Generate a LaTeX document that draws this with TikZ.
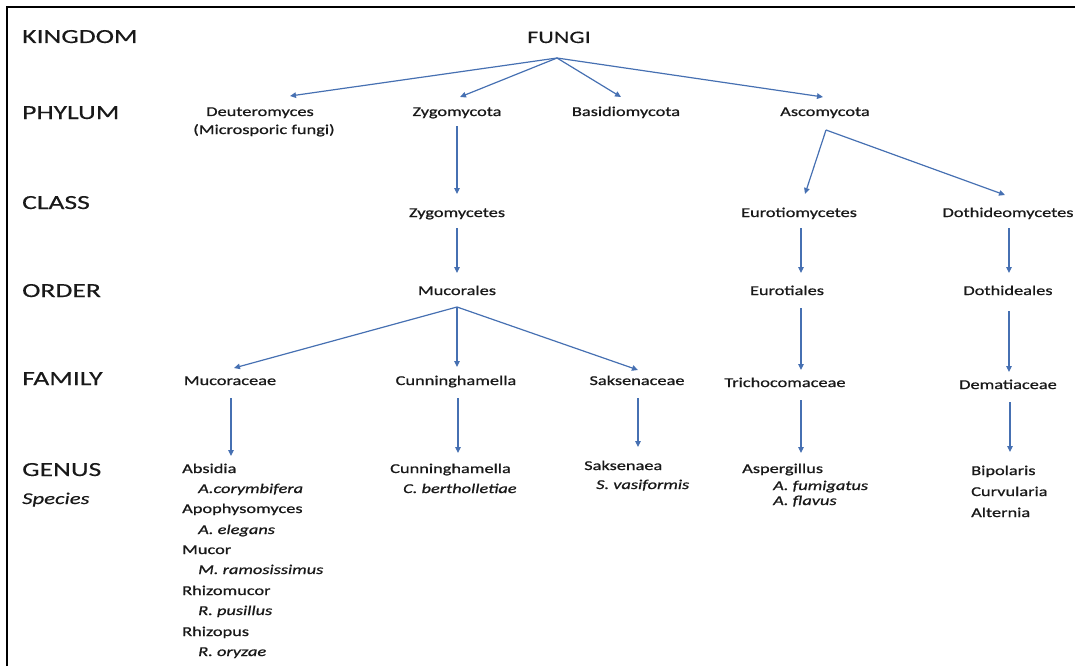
\documentclass[tikz,border=0pt]{standalone}
\usepackage{fontspec}
\setmainfont{Carlito}[FakeStretch=1.38]
\newfontfamily\rankfont{Carlito}[FakeStretch=1.38, FakeBold=0.3]
\newfontfamily\taxfont{Carlito}[FakeStretch=1.36, FakeBold=0.9]
\usetikzlibrary{arrows.meta}
\definecolor{arrowblue}{RGB}{70,112,178}
\definecolor{ink}{RGB}{25,25,25}
\begin{document}
\begin{tikzpicture}[x=1pt,y=-1pt,
  rank/.style={anchor=base west, inner sep=0, font=\rankfont\fontsize{20}{24}\selectfont, text=ink},
  taxon/.style={anchor=base, inner sep=0, font=\taxfont\fontsize{13.5}{16}\selectfont, text=ink},
  gen/.style={anchor=base west, inner sep=0, font=\taxfont\fontsize{13.5}{16}\selectfont, text=ink},
  spec/.style={anchor=base west, inner sep=0, font=\taxfont\fontsize{13.5}{16}\selectfont\itshape, text=ink},
  arr/.style={draw=arrowblue, line width=1.2pt, -{Triangle[length=6pt,width=5.5pt]}}]
\useasboundingbox (0,0) rectangle (1075,666);
\draw[line width=1.5pt, black] (7,666) -- (7,7) -- (1075,7);

% rank labels
\node[rank] (kingdom) at (22,43) {KINGDOM};
\node[rank] (phylum) at (22,119) {PHYLUM};
\node[rank] (class) at (22,209) {CLASS};
\node[rank] (order) at (22,297) {ORDER};
\node[rank] (family) at (22,385) {FAMILY};
\node[rank] (genus) at (22,476) {GENUS};
\node[rank, font=\rankfont\fontsize{16.5}{20}\selectfont\itshape] (species) at (22,504) {Species};

% taxa
\node[taxon, font=\rankfont\fontsize{17.5}{20}\selectfont] (fungi) at (559,43) {FUNGI};
\node[taxon] (deut) at (260,116) {Deuteromyces};
\node[taxon] (micro) at (264,134) {(Microsporic fungi)};
\node[taxon] (zygo) at (457,116) {Zygomycota};
\node[taxon] (basid) at (626,116) {Basidiomycota};
\node[taxon] (asco) at (825,116) {Ascomycota};
\node[taxon] (zygom) at (457,217) {Zygomycetes};
\node[taxon] (eurom) at (799,217) {Eurotiomycetes};
\node[taxon] (dothm) at (1008,217) {Dothideomycetes};
\node[taxon] (mucorales) at (457,295) {Mucorales};
\node[taxon] (eurot) at (787,295) {Eurotiales};
\node[taxon] (dothl) at (1008,295) {Dothideales};
\node[taxon] (mucoraceae) at (230,385) {Mucoraceae};
\node[taxon] (cunnf) at (456,385) {Cunninghamella};
\node[taxon] (saksf) at (637,385) {Saksenaceae};
\node[taxon] (tricho) at (785,387) {Trichocomaceae};
\node[taxon] (demat) at (1008,389) {Dematiaceae};

% genus / species
\node[gen] (absidia) at (182,473) {Absidia};
\node[spec] (acory) at (198,493) {A.corymbifera};
\node[gen] (apophy) at (182,513) {Apophysomyces};
\node[spec] (aeleg) at (198,534) {A. elegans};
\node[gen] (mucor) at (182,554) {Mucor};
\node[spec] (mramo) at (198,574) {M. ramosissimus};
\node[gen] (rhizomucor) at (182,595) {Rhizomucor};
\node[spec] (rpusi) at (198,615) {R. pusillus};
\node[gen] (rhizopus) at (182,636) {Rhizopus};
\node[spec] (roryz) at (198,656) {R. oryzae};
\node[gen] (cunng) at (390,473) {Cunninghamella};
\node[spec] (cberth) at (403,493) {C. bertholletiae};
\node[gen] (saksg) at (584,470) {Saksenaea};
\node[spec] (svasi) at (596,489) {S. vasiformis};
\node[gen] (asper) at (742,473) {Aspergillus};
\node[spec] (afumi) at (773,490) {A. fumigatus};
\node[spec] (aflav) at (773,505) {A. flavus};
\node[gen] (bipol) at (971,475) {Bipolaris};
\node[gen] (curvu) at (971,496) {Curvularia};
\node[gen] (alter) at (971,517) {Alternia};

% connectors
\draw[arr] ([shift={(-2,15)}]fungi.base) -- ([shift={(30,-20)}]deut.base);
\draw[arr] ([shift={(-2,15)}]fungi.base) -- ([shift={(3,-19)}]zygo.base);
\draw[arr] ([shift={(-2,15)}]fungi.base) -- ([shift={(-5,-19)}]basid.base);
\draw[arr] ([shift={(-2,15)}]fungi.base) -- ([shift={(-2,-19)}]asco.base);

\draw[arr] ([shift={(0,10)}]zygo.base) -- ([shift={(0,-23)}]zygom.base);
\draw[arr] ([shift={(0,11)}]zygom.base) -- ([shift={(0,-22)}]mucorales.base);

\draw[arr] ([shift={(1,14)}]asco.base) -- ([shift={(6,-23)}]eurom.base);
\draw[arr] ([shift={(1,14)}]asco.base) -- ([shift={(-3,-22)}]dothm.base);
\draw[arr] ([shift={(2,11)}]eurom.base) -- ([shift={(14,-22)}]eurot.base);
\draw[arr] ([shift={(1,11)}]dothm.base) -- ([shift={(1,-22)}]dothl.base);

\draw[arr] ([shift={(0,12)}]mucorales.base) -- ([shift={(4,-17)}]mucoraceae.base);
\draw[arr] ([shift={(0,12)}]mucorales.base) -- ([shift={(1,-18)}]cunnf.base);
\draw[arr] ([shift={(0,12)}]mucorales.base) -- ([shift={(1,-15)}]saksf.base);
\draw[arr] ([shift={(14,13)}]eurot.base) -- ([shift={(16,-17)}]tricho.base);
\draw[arr] ([shift={(1,16)}]dothl.base) -- ([shift={(1,-17)}]demat.base);

\draw[arr] ([shift={(1,13)}]mucoraceae.base) -- ([shift={(49,-17)}]absidia.base west);
\draw[arr] ([shift={(2,13)}]cunnf.base) -- ([shift={(68,-20)}]cunng.base west);
\draw[arr] ([shift={(1,13)}]saksf.base) -- ([shift={(54,-23)}]saksg.base west);
\draw[arr] ([shift={(16,13)}]tricho.base) -- ([shift={(59,-20)}]asper.base west);
\draw[arr] ([shift={(2,13)}]demat.base) -- ([shift={(39,-23)}]bipol.base west);
\end{tikzpicture}
\end{document}
